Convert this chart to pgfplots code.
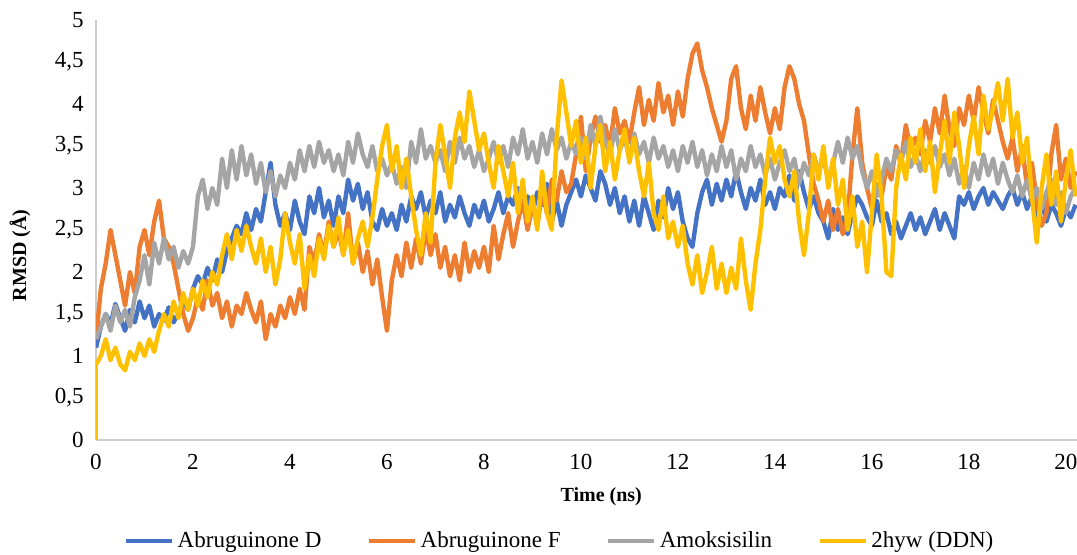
\documentclass[border=0pt]{standalone}
\usepackage{fontspec}
\setmainfont{Liberation Serif}
\usepackage{pgfplots}
\pgfplotsset{compat=1.18}
\usepackage{pgfplotstable}
\definecolor{cB}{HTML}{4472C4}
\definecolor{cO}{HTML}{ED7D31}
\definecolor{cG}{HTML}{A5A5A5}
\definecolor{cY}{HTML}{FFC000}
\newcommand{\lblfont}{\rmfamily\fontsize{11.5}{13.8}\selectfont}
\pgfplotstableread{
t b o g y
0.0 1.1 1.2 1.2 0.9
0.1 1.35 1.8 1.35 1.0
0.2 1.5 2.1 1.5 1.2
0.3 1.38 2.5 1.3 0.95
0.4 1.62 2.2 1.6 1.1
0.5 1.45 1.9 1.4 0.9
0.6 1.3 1.6 1.55 0.83
0.7 1.55 2.0 1.35 1.05
0.8 1.4 1.75 1.7 0.95
0.9 1.65 2.3 1.9 1.15
1.0 1.45 2.5 2.2 1.0
1.1 1.6 2.2 1.85 1.2
1.2 1.35 2.6 2.35 1.05
1.3 1.5 2.85 2.1 1.3
1.4 1.42 2.4 2.4 1.5
1.5 1.58 2.3 2.15 1.35
1.6 1.4 2.1 2.3 1.65
1.7 1.52 1.8 2.05 1.45
1.8 1.65 1.5 2.25 1.75
1.9 1.55 1.3 2.1 1.55
2.0 1.8 1.45 2.3 1.8
2.1 1.95 1.7 2.9 1.6
2.2 1.85 1.55 3.1 1.9
2.3 2.05 1.9 2.75 1.7
2.4 1.9 1.6 3.0 2.0
2.5 2.15 1.75 2.8 1.85
2.6 2.0 1.45 3.35 2.2
2.7 2.25 1.65 3.0 2.45
2.8 2.4 1.35 3.45 2.15
2.9 2.55 1.6 3.1 2.5
3.0 2.45 1.5 3.5 2.25
3.1 2.7 1.75 3.15 2.55
3.2 2.5 1.55 3.4 2.3
3.3 2.75 1.4 3.05 2.1
3.4 2.6 1.65 3.3 2.4
3.5 2.95 1.2 2.95 2.0
3.6 3.3 1.5 3.2 2.3
3.7 2.8 1.35 2.9 1.85
3.8 2.55 1.6 3.15 2.15
3.9 2.7 1.45 3.0 2.7
4.0 2.5 1.7 3.3 2.35
4.1 2.85 1.5 3.1 2.1
4.2 2.6 1.8 3.45 2.45
4.3 2.45 1.55 3.2 1.8
4.4 2.9 2.3 3.5 2.2
4.5 2.7 2.1 3.25 1.95
4.6 3.0 2.45 3.55 2.4
4.7 2.65 2.2 3.3 2.15
4.8 2.85 2.6 3.45 2.55
4.9 2.55 2.3 3.2 2.3
5.0 2.9 2.5 3.4 2.65
5.1 2.7 2.2 3.15 2.2
5.2 3.1 2.7 3.55 2.5
5.3 2.85 2.1 3.3 2.1
5.4 3.05 2.35 3.65 2.4
5.5 2.75 2.0 3.4 2.6
5.6 2.95 2.25 3.25 2.3
5.7 2.6 1.85 3.5 2.65
5.8 2.5 2.15 3.2 3.1
5.9 2.75 1.7 3.35 3.5
6.0 2.55 1.3 3.15 3.75
6.1 2.7 1.9 3.3 3.2
6.2 2.5 2.2 3.05 3.5
6.3 2.8 1.95 3.25 3.0
6.4 2.6 2.35 3.0 3.35
6.5 2.9 2.05 3.55 2.9
6.6 2.75 2.4 3.3 2.5
6.7 2.95 2.1 3.7 2.2
6.8 2.65 2.5 3.35 2.7
6.9 2.85 2.2 3.5 2.35
7.0 2.7 2.45 3.3 3.3
7.1 2.95 2.05 3.45 3.75
7.2 2.6 2.3 3.2 3.4
7.3 2.8 1.95 3.55 3.0
7.4 2.65 2.2 3.3 3.6
7.5 2.9 1.9 3.6 3.9
7.6 2.7 2.35 3.35 3.55
7.7 2.55 2.0 3.5 4.15
7.8 2.8 2.25 3.25 3.8
7.9 2.65 2.05 3.45 3.45
8.0 2.85 2.3 3.2 3.65
8.1 2.6 2.0 3.35 3.3
8.2 2.75 2.55 3.55 3.0
8.3 2.95 2.15 3.3 3.5
8.4 2.7 2.45 3.5 3.2
8.5 2.9 2.7 3.25 2.9
8.6 2.8 2.3 3.6 3.3
8.7 3.0 2.6 3.4 2.7
8.8 2.75 2.85 3.7 3.1
8.9 2.9 2.5 3.35 2.6
9.0 2.7 2.8 3.55 2.9
9.1 2.95 2.55 3.3 2.5
9.2 2.8 2.95 3.65 3.2
9.3 3.05 2.7 3.4 2.7
9.4 2.6 3.1 3.7 2.5
9.5 2.85 2.85 3.45 3.6
9.6 2.55 3.2 3.6 4.28
9.7 2.8 2.95 3.35 3.9
9.8 2.95 3.05 3.55 3.5
9.9 3.1 3.4 3.4 3.8
10.0 2.9 3.85 3.6 3.3
10.1 3.15 3.2 3.35 3.6
10.2 3.0 3.6 3.75 3.0
10.3 2.85 3.85 3.5 3.5
10.4 3.2 3.55 3.85 3.75
10.5 3.05 3.75 3.55 3.2
10.6 2.8 3.5 3.4 3.55
10.7 3.0 3.95 3.7 3.1
10.8 2.7 3.65 3.45 3.45
10.9 2.9 3.8 3.6 3.7
11.0 2.6 3.55 3.35 3.3
11.1 2.85 3.9 3.65 3.6
11.2 2.55 4.2 3.4 3.2
11.3 2.9 3.75 3.55 2.9
11.4 2.7 4.05 3.3 3.3
11.5 2.5 3.8 3.6 2.7
11.6 2.85 4.25 3.35 2.5
11.7 2.65 3.9 3.5 2.9
11.8 3.0 4.1 3.25 2.4
11.9 2.75 3.75 3.45 2.6
12.0 2.95 4.15 3.2 2.3
12.1 2.6 3.85 3.5 2.55
12.2 2.4 4.3 3.3 2.1
12.3 2.3 4.6 3.55 1.85
12.4 2.7 4.72 3.25 2.2
12.5 2.95 4.4 3.45 1.75
12.6 3.1 4.2 3.15 2.0
12.7 2.8 3.95 3.4 2.3
12.8 3.05 3.75 3.2 1.8
12.9 2.85 3.55 3.5 2.1
13.0 3.1 3.8 3.25 1.75
13.1 2.9 4.3 3.45 2.05
13.2 3.2 4.45 3.1 1.8
13.3 2.95 3.95 3.35 2.4
13.4 2.75 3.7 3.2 1.9
13.5 3.0 4.1 3.5 1.55
13.6 2.85 3.8 3.25 2.1
13.7 3.1 4.2 3.4 2.5
13.8 2.8 3.9 3.15 3.1
13.9 2.95 3.65 3.35 3.6
14.0 2.75 3.95 3.1 3.3
14.1 3.0 3.7 3.3 3.5
14.2 2.9 4.2 3.45 3.1
14.3 3.15 4.45 3.2 2.9
14.4 2.85 4.3 3.35 3.2
14.5 3.2 4.0 3.05 2.6
14.6 2.95 3.8 3.3 2.2
14.7 2.75 3.4 3.15 2.7
14.8 2.9 3.05 3.4 3.4
14.9 2.7 2.85 3.2 3.1
15.0 2.6 2.6 3.35 3.5
15.1 2.4 2.85 3.1 3.0
15.2 2.75 2.5 3.3 3.35
15.3 2.5 2.75 3.55 2.8
15.4 2.65 2.45 3.3 3.1
15.5 2.45 2.65 3.6 2.5
15.6 2.7 3.4 3.35 2.9
15.7 2.9 3.95 3.5 2.3
15.8 2.8 3.3 3.2 2.6
15.9 2.65 3.0 3.0 2.0
16.0 2.55 2.75 3.2 2.7
16.1 2.85 3.05 2.9 3.4
16.2 2.6 2.9 3.1 2.9
16.3 2.7 3.25 3.35 2.0
16.4 2.45 3.1 3.2 1.95
16.5 2.6 3.5 3.45 3.0
16.6 2.4 3.3 3.3 3.4
16.7 2.55 3.75 3.55 3.1
16.8 2.7 3.45 3.25 3.6
16.9 2.5 3.6 3.4 3.3
17.0 2.65 3.4 3.2 3.7
17.1 2.45 3.8 3.45 3.2
17.2 2.6 3.55 3.3 3.55
17.3 2.75 3.95 3.5 2.95
17.4 2.5 3.65 3.25 3.4
17.5 2.7 4.1 3.4 3.8
17.6 2.55 3.7 3.15 3.3
17.7 2.4 3.5 3.35 3.9
17.8 2.9 3.95 3.05 3.5
17.9 2.8 3.75 3.25 3.0
18.0 2.95 4.1 3.0 3.5
18.1 2.75 3.8 3.3 3.85
18.2 2.9 4.2 3.1 3.4
18.3 3.0 3.9 3.4 4.1
18.4 2.8 3.65 3.15 3.7
18.5 2.95 4.05 3.35 3.95
18.6 2.85 3.8 3.05 4.25
18.7 2.75 3.55 3.3 3.8
18.8 2.9 3.35 3.1 4.3
18.9 3.0 3.6 2.95 3.6
19.0 2.8 3.2 3.15 3.9
19.1 2.95 3.5 2.9 3.3
19.2 2.75 3.0 3.1 3.6
19.3 2.9 3.3 2.85 2.9
19.4 2.65 2.85 3.0 2.35
19.5 2.85 2.55 2.75 3.0
19.6 2.6 2.7 2.95 3.4
19.7 2.8 3.4 3.1 2.8
19.8 2.7 3.75 2.8 3.2
19.9 2.55 3.1 2.95 2.6
20.0 2.75 3.35 2.7 3.1
20.1 2.65 3.0 2.9 3.45
20.2 2.8 3.2 3.0 2.9
}\rmsd
\begin{document}
\begin{tikzpicture}
\begin{axis}[
  name=ax,
  scale only axis,
  width=490.5pt, height=210pt,
  xmin=0, xmax=20.23, ymin=0, ymax=5,
  axis x line=bottom, axis y line=left,
  axis line style={-, draw=black!20, line width=0.8pt},
  xtick={0,2,...,20}, ytick={0,0.5,...,5},
  major tick length=0pt,
  /pgf/number format/use comma,
  /pgf/number format/assume math mode=true,
  tick label style={font=\lblfont, black},
  xticklabel style={anchor=center, yshift=-11pt},
  yticklabel style={anchor=east, inner sep=0pt, xshift=-6pt},
  xlabel={\textbf{Time (ns)}},
  ylabel={\textbf{RMSD (Å)}},
  label style={font=\lblfont},
  every axis x label/.style={at={(axis description cs:0.515,0)}, anchor=center, yshift=-28.5pt},
  every axis y label/.style={at={(axis description cs:0,0.44)}, xshift=-38pt, anchor=center, rotate=90},
  legend columns=4,
  legend style={at={(axis description cs:0.474,0)}, anchor=center, yshift=-50.5pt, draw=none, font=\lblfont,
    /tikz/every even column/.append style={column sep=21pt}},
  legend image code/.code={\draw[#1, line width=1.6pt] (0pt,0pt) -- (23pt,0pt);},
  every axis plot/.append style={line width=2.2pt, line join=round},
]
\addplot [cB] table [x=t, y=b] {\rmsd};
\addlegendentry{Abruguinone D}
\addplot [cO] table [x=t, y=o] {\rmsd};
\addlegendentry{Abruguinone F}
\addplot [cG] table [x=t, y=g] {\rmsd};
\addlegendentry{Amoksisilin}
\addplot [cY] table [x=t, y=y] {\rmsd};
\addlegendentry{2hyw (DDN)}
\addplot [cY, forget plot] coordinates {(0,0) (0,0.9)};
\end{axis}
\pgfresetboundingbox
\path ([xshift=-48pt,yshift=-57.5pt]ax.south west) rectangle ([yshift=10pt]ax.north east);
\end{tikzpicture}
\end{document}
